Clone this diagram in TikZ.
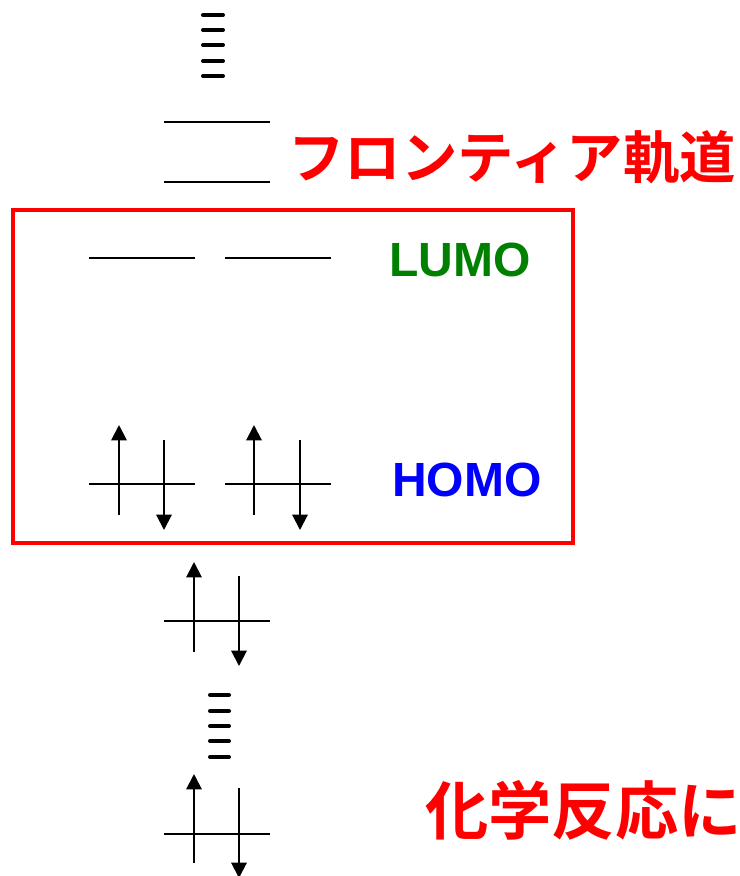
\documentclass[tikz,border=0pt]{standalone}
\usepackage{fontspec}
\setmainfont{Liberation Sans}
\newfontfamily\cjk{Noto Sans CJK JP}[BoldFont={Noto Sans CJK JP Bold}]
\usetikzlibrary{arrows.meta}
\definecolor{lumogreen}{RGB}{0,128,0}
\definecolor{homoblue}{RGB}{0,0,255}
\definecolor{boxred}{RGB}{255,0,0}
\tikzset{
  level/.style={line width=2pt},
  dashlevel/.style={line width=3pt, line cap=round},
  spin/.style={line width=1.5pt, -{Triangle[width=11.5pt,length=11.5pt]}},
  frame/.style={draw=boxred, line width=2.8pt},
  jp/.style={text=boxred, inner sep=0pt},
  molabel/.style={font=\bfseries\fontsize{36pt}{40pt}\selectfont, inner sep=0pt},
}
\begin{document}
\begin{tikzpicture}[x=0.75pt,y=-0.75pt]
\useasboundingbox (0,0) rectangle (740,876);
% top dashes
\foreach \i/\y in {1/15,2/30,3/45,4/61,5/76}{
  \coordinate (td\i a) at (203,\y); \coordinate (td\i b) at (223,\y);
  \draw[dashlevel] (td\i a) -- (td\i b);
}
% upper empty levels
\coordinate (u1a) at (164,122); \coordinate (u1b) at (270,122);
\coordinate (u2a) at (164,182); \coordinate (u2b) at (270,182);
\draw[level] (u1a) -- (u1b);
\draw[level] (u2a) -- (u2b);
\node[jp, anchor=west, font=\cjk\bfseries\fontsize{42.3pt}{46pt}\selectfont] (frontier) at (288,157) {フロンティア軌道};
% box
\node[frame, minimum width=420pt, minimum height=249.75pt, inner sep=0pt] (box) at (293,376.5) {};
% LUMO
\coordinate (l1a) at (89,258); \coordinate (l1b) at (195,258);
\coordinate (l2a) at (225,258); \coordinate (l2b) at (331,258);
\draw[level] (l1a) -- (l1b);
\draw[level] (l2a) -- (l2b);
\node[molabel, text=lumogreen, anchor=west] (lumo) at (389,260) {LUMO};
% HOMO
\coordinate (h1a) at (89,484); \coordinate (h1b) at (195,484);
\coordinate (h2a) at (225,484); \coordinate (h2b) at (331,484);
\draw[level] (h1a) -- (h1b);
\draw[level] (h2a) -- (h2b);
\coordinate (h1us) at (119,515); \coordinate (h1ue) at (119,425);
\coordinate (h1ds) at (164,440); \coordinate (h1de) at (164,530);
\coordinate (h2us) at (254,515); \coordinate (h2ue) at (254,425);
\coordinate (h2ds) at (300,440); \coordinate (h2de) at (300,530);
\draw[spin] (h1us) -- (h1ue);
\draw[spin] (h1ds) -- (h1de);
\draw[spin] (h2us) -- (h2ue);
\draw[spin] (h2ds) -- (h2de);
\node[molabel, text=homoblue, anchor=west] (homo) at (392,480) {HOMO};
% lower occupied level
\coordinate (o1a) at (164,621); \coordinate (o1b) at (270,621);
\draw[level] (o1a) -- (o1b);
\coordinate (o1us) at (194,652); \coordinate (o1ue) at (194,562);
\coordinate (o1ds) at (239,576); \coordinate (o1de) at (239,666);
\draw[spin] (o1us) -- (o1ue);
\draw[spin] (o1ds) -- (o1de);
% middle dashes
\foreach \i/\y in {1/695,2/711,3/726,4/741,5/757}{
  \coordinate (md\i a) at (210,\y); \coordinate (md\i b) at (229,\y);
  \draw[dashlevel] (md\i a) -- (md\i b);
}
% bottom occupied level
\coordinate (o2a) at (164,834); \coordinate (o2b) at (270,834);
\draw[level] (o2a) -- (o2b);
\coordinate (o2us) at (194,863); \coordinate (o2ue) at (194,774);
\coordinate (o2ds) at (239,788); \coordinate (o2de) at (239,878);
\draw[spin] (o2us) -- (o2ue);
\draw[spin] (o2ds) -- (o2de);
\node[jp, anchor=west, font=\cjk\bfseries\fontsize{47.5pt}{51pt}\selectfont] (react) at (425,810) {化学反応に};
\end{tikzpicture}
\end{document}
